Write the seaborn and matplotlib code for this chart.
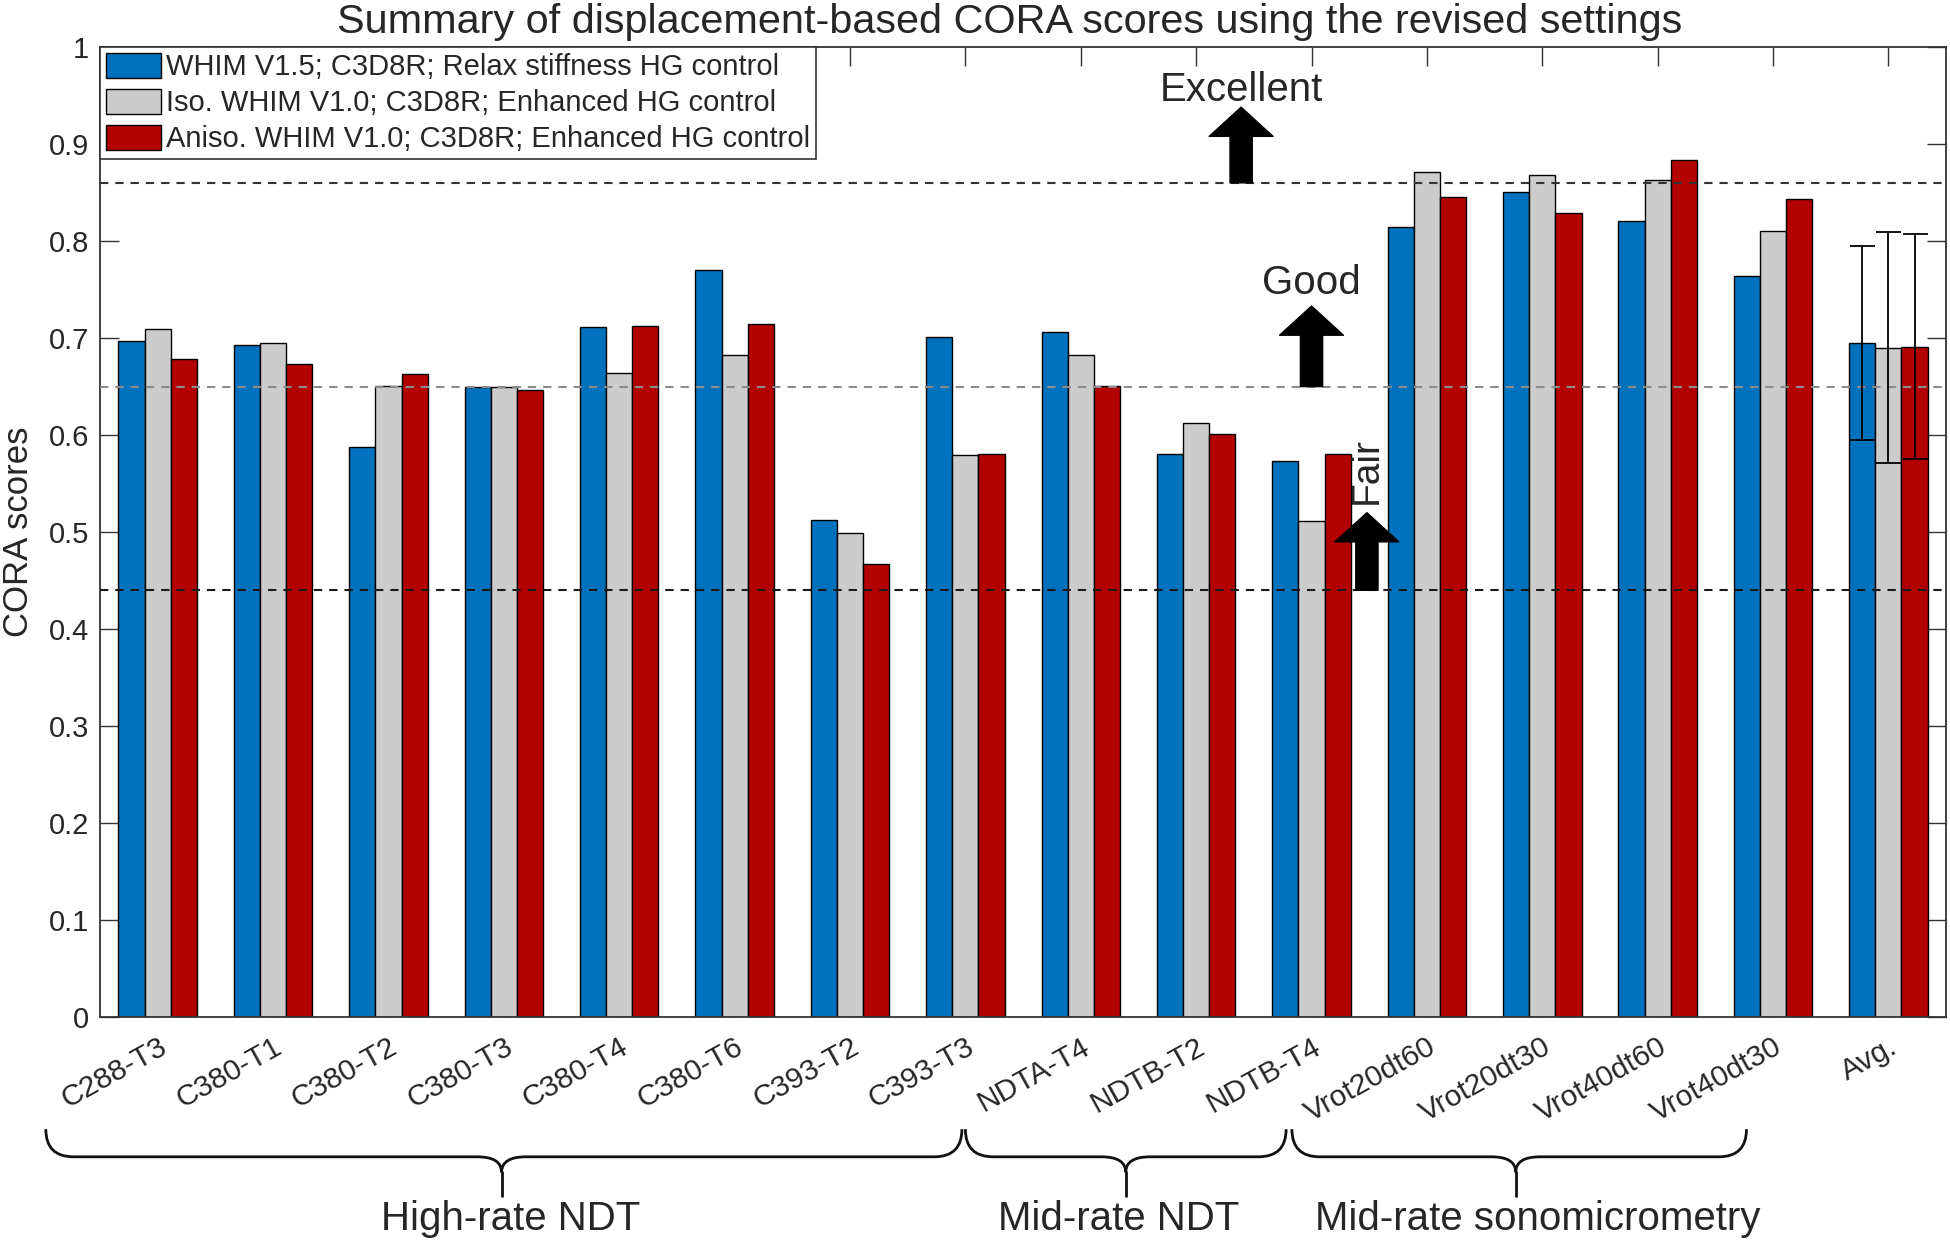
import numpy as np
import pandas as pd
import matplotlib
matplotlib.use("Agg")
import matplotlib.pyplot as plt
import matplotlib.transforms as mtransforms
from matplotlib.path import Path
from matplotlib.patches import PathPatch
import seaborn as sns

# test cases (last one is the average over all tests)
tests = ["C288-T3", "C380-T1", "C380-T2", "C380-T3", "C380-T4", "C380-T6", "C393-T2", "C393-T3",
         "NDTA-T4", "NDTB-T2", "NDTB-T4", "Vrot20dt60", "Vrot20dt30", "Vrot40dt60", "Vrot40dt30", "Avg."]
models = ["WHIM V1.5; C3D8R; Relax stiffness HG control",
          "Iso. WHIM V1.0; C3D8R; Enhanced HG control",
          "Aniso. WHIM V1.0; C3D8R; Enhanced HG control"]

# CORA scores
whim15 = [0.697, 0.693, 0.588, 0.650, 0.711, 0.770, 0.512, 0.701, 0.706, 0.580, 0.573,
          0.815, 0.851, 0.821, 0.764, 0.695]
iso10 = [0.709, 0.695, 0.651, 0.650, 0.664, 0.683, 0.499, 0.579, 0.683, 0.612, 0.511,
         0.871, 0.868, 0.863, 0.810, 0.690]
aniso10 = [0.678, 0.673, 0.663, 0.646, 0.712, 0.715, 0.467, 0.580, 0.651, 0.601, 0.581,
           0.845, 0.829, 0.884, 0.843, 0.691]
avg_std = [0.100, 0.119, 0.116]

colors = ["#0072BD", "#CCCCCC", "#B30000"]

# rating thresholds
levels = [0.86, 0.65, 0.44]
level_colors = ["#333333", "#8c8c8c", "#1a1a1a"]
ratings = ["Excellent", "Good", "Fair"]

# groups of tests shown with braces under the axis (x span in category units, tip, label x)
groups = ["High-rate NDT", "Mid-rate NDT", "Mid-rate sonomicrometry"]
group_spans = [(-0.97, 6.97), (7.0, 9.78), (9.83, 13.77)]
group_tips = [2.98, 8.39, 11.77]
group_text_x = [3.06, 8.33, 11.96]

sns.set_style("ticks")
plt.rcParams["font.family"] = ["Liberation Sans", "DejaVu Sans"]
plt.rcParams["lines.scale_dashes"] = False

df = pd.DataFrame({
    "test": tests * 3,
    "model": np.repeat(models, len(tests)),
    "score": whim15 + iso10 + aniso10,
})

fig = plt.figure(figsize=(19.5, 12.48), dpi=100)
ax = fig.add_axes([0.0513, 0.185, 0.9467, 0.7773])

sns.barplot(data=df, x="test", y="score", hue="model", hue_order=models, order=tests,
            palette=colors, saturation=1, width=0.68, gap=0, errorbar=None,
            edgecolor="black", linewidth=1.0, ax=ax, zorder=2)

# error bars on the averages
means = [whim15[-1], iso10[-1], aniso10[-1]]
for cont, m, s in zip(ax.containers, means, avg_std):
    bar = cont.patches[-1]
    xc = bar.get_x() + bar.get_width() / 2
    ax.errorbar(xc, m, yerr=s, fmt="none", ecolor="black", elinewidth=1.3,
                capsize=9, capthick=1.3, zorder=4)

for lv, lc in zip(levels, level_colors):
    ax.axhline(lv, color=lc, lw=1.5, ls=(0, (6, 5)), zorder=3)

# arrows + rating text
arrow_x = [9.39, 10.0, 10.48]
arrow_top = [0.938, 0.733, 0.52]
text_y = [0.956, 0.757, 0.563]
astyle = "simple,head_length=21,head_width=46,tail_width=16"
for lv, ax_x, top, ty, name in zip(levels, arrow_x, arrow_top, text_y, ratings):
    ax.annotate("", xy=(ax_x, top), xytext=(ax_x, lv),
                arrowprops=dict(arrowstyle=astyle, mutation_scale=1, color="black",
                                shrinkA=0, shrinkB=0), zorder=5)
    if name == "Fair":
        ax.text(ax_x, ty, name, rotation=90, ha="center", va="center", fontsize=28, zorder=5)
    else:
        ax.text(ax_x, ty, name, ha="center", va="center", fontsize=29, zorder=5)

ax.set_xlim(-0.5, len(tests) - 0.5)
ax.set_ylim(0, 1)
ax.set_yticks(np.arange(0, 1.01, 0.1))
ax.set_yticklabels(["0"] + [f"{v:.1f}" for v in np.arange(0.1, 0.95, 0.1)] + ["1"], fontsize=21)
ax.set_xticks(range(len(tests)))
ax.set_xticklabels(tests, rotation=29, ha="right", va="top", rotation_mode="anchor", fontsize=21.5)
shift = mtransforms.ScaledTranslation(6 / 100, 0, fig.dpi_scale_trans)
for lab in ax.get_xticklabels():
    lab.set_transform(lab.get_transform() + shift)
ax.tick_params(axis="both", direction="in", length=14, width=1, top=True, right=True,
               color="#333333")
ax.tick_params(axis="x", pad=11)
ax.tick_params(axis="y", pad=8)
for sp in ax.spines.values():
    sp.set_visible(True)
    sp.set_color("#333333")
    sp.set_linewidth(1.3)
ax.set_xlabel("")
ax.set_ylabel("")

leg = ax.legend(loc="upper left", bbox_to_anchor=(0, 1), borderaxespad=0, fontsize=21,
                frameon=True, fancybox=False, framealpha=1, edgecolor="#333333",
                handlelength=1.9, handleheight=0.95, handletextpad=0.15,
                labelspacing=0.25, borderpad=0.2, title=None)
leg.get_frame().set_linewidth(1.2)

fig.text(0.518, 0.9824, "Summary of displacement-based CORA scores using the revised settings",
         ha="center", va="center", fontsize=29.8)
fig.text(0.0097, 0.5737, "CORA scores", rotation=90, ha="center", va="center", fontsize=25)

# curly braces below the tick labels (x in data units, y in axes fraction)
trans = mtransforms.blended_transform_factory(ax.transData, ax.transAxes)
y_end, y_mid, y_tip, y_bot = -0.1155, -0.144, -0.160, -0.184
rx, rt = 0.24, 0.21
for (x0, x1), xt, tx, name in zip(group_spans, group_tips, group_text_x, groups):
    verts = [(x0, y_end), (x0, y_mid), (x0 + rx, y_mid), (xt - rt, y_mid), (xt, y_mid), (xt, y_tip),
             (xt, y_mid), (xt + rt, y_mid), (x1 - rx, y_mid), (x1, y_mid), (x1, y_end)]
    codes = [Path.MOVETO, Path.CURVE3, Path.CURVE3, Path.LINETO, Path.CURVE3, Path.CURVE3,
             Path.CURVE3, Path.CURVE3, Path.LINETO, Path.CURVE3, Path.CURVE3]
    ax.add_patch(PathPatch(Path(verts, codes), transform=trans, fill=False, lw=2,
                           edgecolor="#111111", clip_on=False))
    ax.plot([xt, xt], [y_tip, y_bot], transform=trans, color="#111111", lw=2, clip_on=False)
    ax.text(tx, -0.208, name, transform=trans, ha="center", va="center", fontsize=29)

fig.savefig("out.png", dpi=100)
